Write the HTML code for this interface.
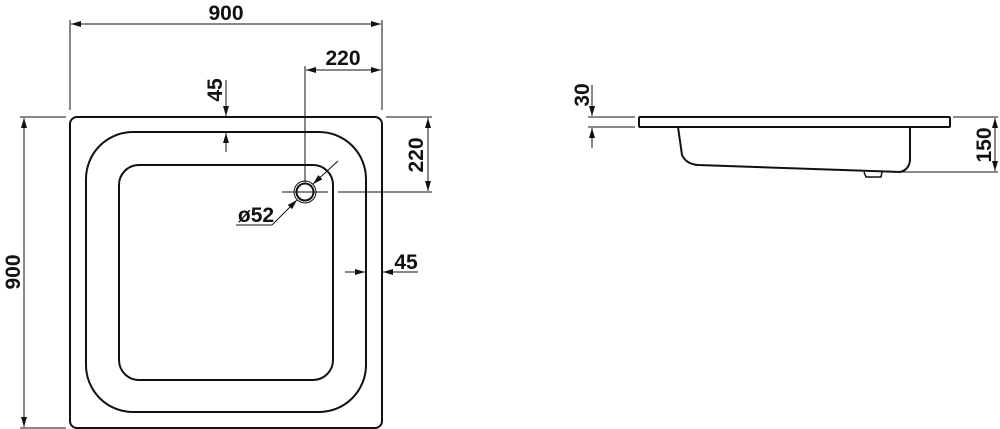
<!DOCTYPE html>
<html><head><style>body{margin:0;background:#fff}svg{display:block}text{font-family:"Liberation Sans",sans-serif;font-weight:bold;font-size:21px;fill:#111}</style></head>
<body>
<svg width="1000" height="429" viewBox="0 0 1000 429" xmlns="http://www.w3.org/2000/svg">
<defs>
<marker id="a" viewBox="0 0 10 6" refX="10" refY="3" markerWidth="10" markerHeight="6" markerUnits="userSpaceOnUse" orient="auto-start-reverse"><path d="M0,0L10,3L0,6z" fill="#111"/></marker>
</defs>
<g fill="none" stroke="#111">
<rect x="70" y="117" width="312" height="311" rx="7" stroke-width="2"/>
<rect x="86" y="132" width="280" height="280" rx="47" stroke-width="2"/>
<rect x="119" y="165" width="214" height="215" rx="20" stroke-width="2"/>
<circle cx="305" cy="192" r="11" stroke-width="1"/>
<circle cx="305" cy="192" r="8.5" stroke-width="2"/>
</g>
<g stroke="#111" stroke-width="1" fill="none">
<line x1="70" y1="20" x2="70" y2="110"/><line x1="382" y1="20" x2="382" y2="110"/>
<line x1="71" y1="24" x2="381" y2="24" marker-start="url(#a)" marker-end="url(#a)"/>
<line x1="305" y1="66" x2="305" y2="182"/>
<line x1="306" y1="70" x2="381" y2="70" marker-start="url(#a)" marker-end="url(#a)"/>
<line x1="226" y1="80" x2="226" y2="116" marker-end="url(#a)"/>
<line x1="226" y1="152" x2="226" y2="133" marker-end="url(#a)"/>
<line x1="386" y1="117" x2="432" y2="117"/><line x1="338" y1="192" x2="432" y2="192"/>
<line x1="428" y1="118" x2="428" y2="191" marker-start="url(#a)" marker-end="url(#a)"/>
<line x1="282" y1="192" x2="328" y2="192"/>
<line x1="20" y1="117" x2="66" y2="117"/><line x1="20" y1="428" x2="66" y2="428"/>
<line x1="24" y1="118" x2="24" y2="427" marker-start="url(#a)" marker-end="url(#a)"/>
<line x1="345" y1="272" x2="365" y2="272" marker-end="url(#a)"/>
<line x1="418" y1="272" x2="383" y2="272" marker-end="url(#a)"/>
<polyline points="236,225 272,225 297,200" marker-end="url(#a)"/>
<line x1="338" y1="161" x2="313" y2="184" marker-end="url(#a)"/>
</g>
<text x="226" y="20" text-anchor="middle">900</text>
<text x="343" y="65" text-anchor="middle">220</text>
<text transform="translate(222,90) rotate(-90)" text-anchor="middle">45</text>
<text transform="translate(423,155) rotate(-90)" text-anchor="middle">220</text>
<text transform="translate(20,272) rotate(-90)" text-anchor="middle">900</text>
<text x="406" y="269" text-anchor="middle">45</text>
<text x="256" y="222" text-anchor="middle">ø52</text>
<g fill="none" stroke="#111" stroke-width="2">
<rect x="639" y="117" width="311" height="10" rx="1"/>
<path d="M678,127 L682,155 Q686,164 698,165 L900,172 Q909,170 910,160 L910,127"/>
<path d="M864,172 L866,177 L881,177 L882,172" stroke-width="1.5"/>
</g>
<g stroke="#111" stroke-width="1" fill="none">
<line x1="588" y1="117" x2="635" y2="117"/><line x1="588" y1="127" x2="635" y2="127"/>
<line x1="592" y1="85" x2="592" y2="116" marker-end="url(#a)"/>
<line x1="592" y1="148" x2="592" y2="128" marker-end="url(#a)"/>
<line x1="953" y1="117" x2="998" y2="117"/><line x1="900" y1="172" x2="998" y2="172"/>
<line x1="995" y1="118" x2="995" y2="171" marker-start="url(#a)" marker-end="url(#a)"/>
</g>
<text transform="translate(589,95) rotate(-90)" text-anchor="middle">30</text>
<text transform="translate(991,145) rotate(-90)" text-anchor="middle">150</text>
</svg>
</body></html>
